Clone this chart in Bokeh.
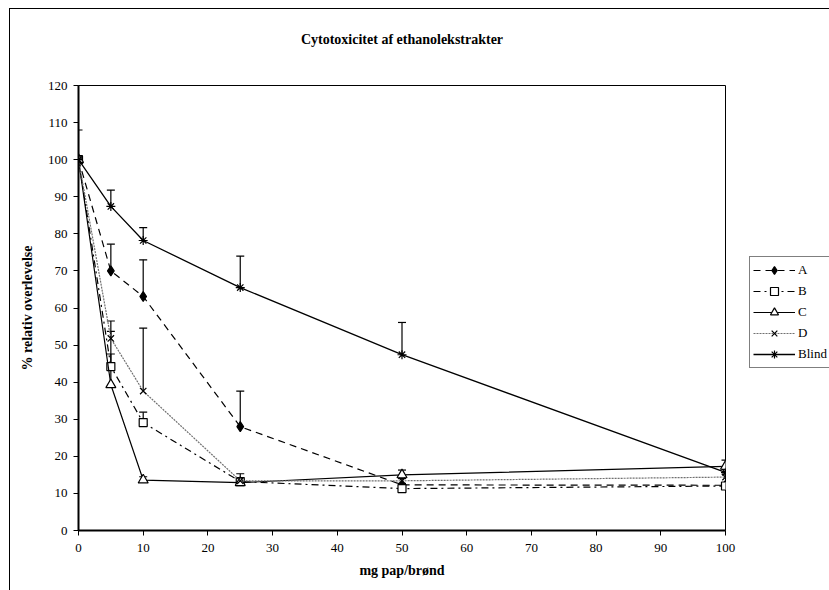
from bokeh.plotting import figure
from bokeh.layouts import row
from bokeh.models import (Range1d, Whisker, ColumnDataSource, Legend, LegendItem,
                          TeeHead, FixedTicker, Title)
from bokeh.embed import file_html
from bokeh.resources import INLINE

doses = [0, 5, 10, 25, 50, 100]
a_vals = [100, 70.0, 63.1, 28.0, 12.3, 12.2]
a_err = [8.0, 7.2, 9.9, 9.6, 0.4, 0.4]
b_vals = [100, 44.2, 29.1, 13.2, 11.3, 12.0]
b_err = [0.0, 9.5, 2.8, 0.6, 0.5, 0.6]
c_vals = [100, 39.3, 13.6, 12.9, 15.0, 17.3]
c_err = [0.0, 8.3, 0.9, 0.6, 1.3, 1.7]
d_vals = [100, 51.8, 37.6, 13.4, 13.4, 14.4]
d_err = [0.0, 4.7, 17.0, 1.9, 0.6, 0.8]
blind_vals = [100, 87.4, 78.2, 65.5, 47.4, 15.7]
blind_err = [0.0, 4.4, 3.5, 8.5, 8.7, 0.8]

x_ticks = [0, 10, 20, 30, 40, 50, 60, 70, 80, 90, 100]
y_ticks = [0, 10, 20, 30, 40, 50, 60, 70, 80, 90, 100, 110, 120]

FONT = "Liberation Serif"
H = 581
TOP = 76
BOTTOM = 60

p = figure(width=739, height=H, output_backend="svg", toolbar_location=None,
           x_range=Range1d(0, 100), y_range=Range1d(0, 120), title=None,
           min_border_left=68, min_border_right=24, min_border_top=TOP,
           min_border_bottom=BOTTOM)

# spacer (innermost) then the real title, to lift the title above the frame
p.add_layout(Title(text=" ", text_font_size="2px", standoff=35), "above")
p.add_layout(Title(text="Cytotoxicitet af ethanolekstrakter", align="center",
                   text_font=FONT, text_font_size="14px", text_font_style="bold",
                   text_color="black", standoff=0), "above")

p.grid.visible = False
p.outline_line_color = "black"
p.outline_line_width = 1

for ax in (p.xaxis[0], p.yaxis[0]):
    ax.major_label_text_font = FONT
    ax.major_label_text_font_size = "13px"
    ax.major_label_text_color = "black"
    ax.axis_label_text_font = FONT
    ax.axis_label_text_font_size = "14px"
    ax.axis_label_text_font_style = "bold"
    ax.axis_label_text_color = "black"
    ax.axis_line_width = 2
    ax.axis_line_color = "black"
    ax.major_tick_line_color = "black"
    ax.major_tick_in = 0
    ax.major_tick_out = 5
    ax.minor_tick_line_color = None

p.xaxis.ticker = FixedTicker(ticks=x_ticks)
p.yaxis.ticker = FixedTicker(ticks=y_ticks)
p.xaxis.axis_label = "mg pap/brønd"
p.yaxis.axis_label = "% relativ overlevelse"
p.xaxis.major_label_standoff = 8
p.xaxis.axis_label_standoff = 8
p.yaxis.major_label_standoff = 6
p.yaxis.axis_label_standoff = 10

series = [
    ("A", a_vals, a_err, dict(line_color="black", line_width=1.2, line_dash="7 5"),
     dict(marker="diamond", size=10, fill_color="black", line_color="black")),
    ("B", b_vals, b_err, dict(line_color="black", line_width=1.2, line_dash="7 4 2 4"),
     dict(marker="square", size=8, fill_color="white", line_color="black")),
    ("C", c_vals, c_err, dict(line_color="black", line_width=1.2),
     dict(marker="triangle", size=10, fill_color="white", line_color="black")),
    ("D", d_vals, d_err, dict(line_color="#707070", line_width=1.2, line_dash="2 1"),
     dict(marker="x", size=9, fill_color=None, line_color="black")),
    ("Blind", blind_vals, blind_err, dict(line_color="black", line_width=1.3),
     dict(marker="asterisk", size=9, fill_color=None, line_color="black")),
]

# narrow companion panel to the right of the plot that carries the legend;
# its ranges keep the series' own data out of view, only the legend shows
lg = figure(width=80, height=H, output_backend="svg", toolbar_location=None,
            x_range=Range1d(200, 201), y_range=Range1d(200, 201),
            x_axis_type=None, y_axis_type=None, title=None,
            min_border_left=0, min_border_right=0, min_border_top=TOP,
            min_border_bottom=BOTTOM)
lg.outline_line_color = None
lg.grid.visible = False

items = []
for name, vals, errs, lstyle, mstyle in series:
    src = ColumnDataSource(dict(x=doses, y=vals))
    p.line("x", "y", source=src, **lstyle)
    p.scatter("x", "y", source=src, line_width=1.2, **mstyle)
    bx = [d for d, e in zip(doses, errs) if e > 0]
    lo = [v for v, e in zip(vals, errs) if e > 0]
    hi = [v + e for v, e in zip(vals, errs) if e > 0]
    wsrc = ColumnDataSource(dict(base=bx, lower=lo, upper=hi))
    w = Whisker(source=wsrc, base="base", lower="lower", upper="upper",
                dimension="height", lower_head=None,
                upper_head=TeeHead(size=8, line_color="black", line_width=1.2),
                line_color="black", line_width=1.2)
    p.add_layout(w)
    lr = lg.line("x", "y", source=src, **lstyle)
    sr = lg.scatter("x", "y", source=src, line_width=1.2, **mstyle)
    items.append(LegendItem(label=name, renderers=[lr, sr]))

legend = Legend(items=items, location=(0, 162))
legend.border_line_color = "black"
legend.border_line_width = 1
legend.label_text_font = FONT
legend.label_text_font_size = "13px"
legend.label_text_color = "black"
legend.glyph_width = 42
legend.glyph_height = 20
legend.label_height = 20
legend.padding = 3
legend.spacing = 1
legend.label_standoff = 3
legend.margin = 0
lg.add_layout(legend)

layout = row(p, lg, spacing=0)
layout.styles = {"margin-left": "9px", "margin-top": "8px",
                 "border-left": "1px solid black", "border-top": "1px solid black"}

open("out.html", "w").write(file_html(layout, INLINE))
